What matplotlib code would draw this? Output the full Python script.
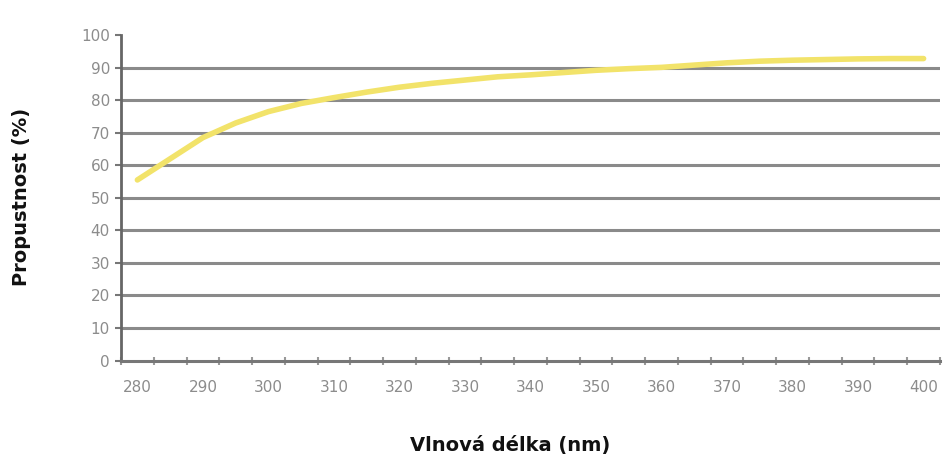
import numpy as np
import matplotlib
matplotlib.use('Agg')
import matplotlib.pyplot as plt

# wavelengths (nm), one category every 5 nm
wavelengths = [280, 285, 290, 295, 300, 305, 310, 315, 320, 325, 330, 335, 340,
               345, 350, 355, 360, 365, 370, 375, 380, 385, 390, 395, 400]
# transmittance (%)
transmittance = [55.5, 62, 68.5, 73, 76.5, 79, 80.8, 82.5, 84, 85.2, 86.2, 87.2, 87.8,
                 88.5, 89.2, 89.7, 90.1, 90.8, 91.5, 92, 92.3, 92.5, 92.7, 92.8, 92.8]
y_ticks = [0, 10, 20, 30, 40, 50, 60, 70, 80, 90, 100]
x_labels = ['280', '290', '300', '310', '320', '330', '340', '350', '360',
            '370', '380', '390', '400']

fig = plt.figure(figsize=(9.49, 4.75), dpi=100)
ax = fig.add_axes([0.1275, 0.241, 0.863, 0.685])

# categories sit in the middle of their slot, like a spreadsheet chart
pos = np.arange(len(wavelengths))
ax.set_xlim(-0.5, len(wavelengths) - 0.5)
ax.set_ylim(0, 100)

# horizontal grid
for v in y_ticks[1:-1]:
    ax.axhline(v, color='#8a8a8a', lw=2.2, zorder=1)

ax.plot(pos, transmittance, color='#f2e36a', lw=4, solid_capstyle='round', zorder=3)

# spines
for side in ['top', 'right']:
    ax.spines[side].set_visible(False)
ax.spines['left'].set_color('#666666')
ax.spines['left'].set_linewidth(2)
ax.spines['bottom'].set_color('#777777')
ax.spines['bottom'].set_linewidth(2.2)

ax.set_yticks(y_ticks)
ax.set_yticklabels([str(v) for v in y_ticks])
ax.tick_params(axis='y', direction='out', length=4, width=1.5, color='#777777',
               labelsize=11, labelcolor='#8c8c8c', pad=4)

# labels every 10 nm, tick marks at category boundaries
label_pos = [wavelengths.index(int(s)) for s in x_labels]
ax.set_xticks(label_pos)
ax.set_xticklabels(x_labels)
ax.set_xticks(np.arange(-0.5, len(wavelengths)), minor=True)
ax.tick_params(axis='x', which='major', length=0, labelsize=11,
               labelcolor='#8c8c8c', pad=14)
ax.tick_params(axis='x', which='minor', direction='inout', length=6, width=1.5,
               color='#999999')

# axis titles placed in figure pixels (y from the top)
fig.text(510 / 949, 1 - 446 / 475, 'Vlnová délka (nm)', fontsize=14,
         fontweight='bold', family='DejaVu Sans', color='#111111',
         ha='center', va='center')
fig.text(22 / 949, 1 - 197 / 475, 'Propustnost (%)', fontsize=14,
         fontweight='bold', family='DejaVu Sans', color='#111111',
         ha='center', va='center', rotation=90)

fig.savefig('out.png', dpi=100)
